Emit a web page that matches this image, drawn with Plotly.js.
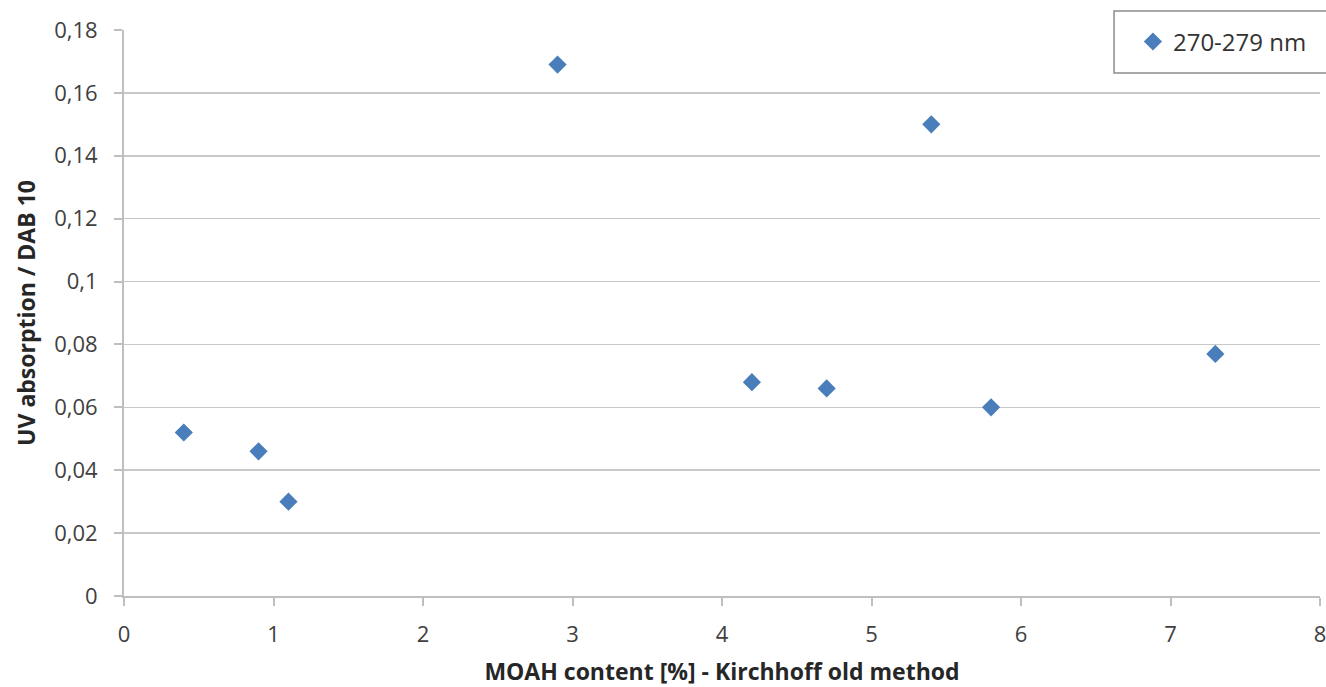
<!DOCTYPE html>
<html>
<head>
<meta charset="utf-8">
<script src="https://cdn.plot.ly/plotly-3.0.1.min.js"></script>
<style>html,body{margin:0;padding:0;background:#fff;}#chart{width:1326px;height:687px;}</style>
</head>
<body>
<div id="chart"></div>
<script>
const seriesName = "270-279 nm";
const moahContent = [0.4, 0.9, 1.1, 2.9, 4.2, 4.7, 5.4, 5.8, 7.3];
const uvAbsorption = [0.052, 0.046, 0.030, 0.169, 0.068, 0.066, 0.150, 0.060, 0.077];
const yTickVals = [0, 0.02, 0.04, 0.06, 0.08, 0.1, 0.12, 0.14, 0.16, 0.18];
const yTickText = ["0", "0,02", "0,04", "0,06", "0,08", "0,1", "0,12", "0,14", "0,16", "0,18"];
const xTickVals = [0, 1, 2, 3, 4, 5, 6, 7, 8];
const xTitle = "MOAH content [%] - Kirchhoff old method";
const yTitle = "UV absorption / DAB 10";

const font = "Open Sans, Liberation Sans, sans-serif";
const trace = {
  x: moahContent, y: uvAbsorption, type: "scatter", mode: "markers", name: seriesName,
  marker: {symbol: "diamond", size: 14, color: "#4a7ebb"}
};
const layout = {
  width: 1326, height: 687,
  margin: {l: 124, r: 6, t: 30, b: 91},
  paper_bgcolor: "#fff", plot_bgcolor: "#fff",
  font: {family: font, color: "#404040", size: 22},
  showlegend: true,
  legend: {x: 0.8436, xanchor: "left", y: 0.979, yanchor: "middle", bgcolor: "rgba(0,0,0,0)",
           font: {family: font, size: 24, color: "#333"}},
  xaxis: {range: [0, 8], tickvals: xTickVals, ticks: "outside", ticklen: 8, tickcolor: "#bfbfbf", tickwidth: 2,
          ticklabelstandoff: 10, ticklabeloverflow: "allow",
          showline: true, linecolor: "#bfbfbf", linewidth: 2, showgrid: false, zeroline: false,
          tickfont: {size: 22, color: "#404040"},
          title: {text: "<b>" + xTitle + "</b>", font: {size: 23, color: "#262626"}, standoff: 20}},
  yaxis: {range: [0, 0.18], tickvals: yTickVals, ticktext: yTickText, ticks: "outside", ticklen: 8, tickcolor: "#bfbfbf", tickwidth: 2,
          ticklabelstandoff: 12, ticklabeloverflow: "allow",
          showline: true, linecolor: "#bfbfbf", linewidth: 2, showgrid: true, gridcolor: "#c8c8c8", gridwidth: 1.5, zeroline: false,
          tickfont: {size: 22, color: "#404040"},
          title: {text: "<b>" + yTitle + "</b>", font: {size: 23, color: "#262626"}, standoff: 12}},
  shapes: [{type: "rect", xref: "paper", yref: "paper", x0: 0.8278, x1: 1.0084, y0: 0.924, y1: 1.0336,
            line: {color: "#8c8c8c", width: 1.5}, fillcolor: "#fff", layer: "above"}]
};
Plotly.newPlot("chart", [trace], layout, {displayModeBar: false, staticPlot: true});
</script>
</body>
</html>
